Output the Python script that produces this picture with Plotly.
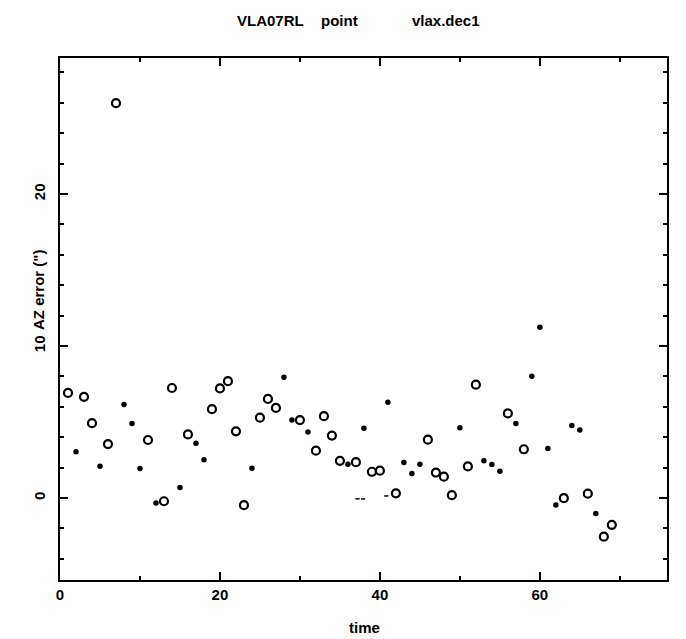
import plotly.graph_objects as go

# time index and AZ error values (arcsec)
t_open = [1, 3, 4, 6, 7, 11, 13, 14, 16, 19, 20, 21, 22, 23, 25, 26, 27, 30, 32, 33, 34, 35, 37, 39, 40, 42, 46, 47, 48, 49, 51, 52, 56, 58, 63, 66, 68, 69]
y_open = [6.92, 6.66, 4.93, 3.55, 25.98, 3.82, -0.21, 7.24, 4.19, 5.85, 7.21, 7.69, 4.39, -0.47, 5.29, 6.52, 5.93, 5.13, 3.12, 5.39, 4.11, 2.45, 2.36, 1.73, 1.80, 0.31, 3.84, 1.68, 1.41, 0.19, 2.08, 7.46, 5.57, 3.21, -0.01, 0.29, -2.54, -1.76]

t_fill = [2, 5, 8, 9, 10, 12, 15, 17, 18, 24, 28, 29, 31, 36, 38, 41, 43, 44, 45, 50, 53, 54, 55, 57, 59, 60, 61, 62, 64, 65, 67]
y_fill = [3.05, 2.10, 6.16, 4.90, 1.95, -0.33, 0.69, 3.61, 2.52, 1.96, 7.94, 5.14, 4.34, 2.22, 4.59, 6.31, 2.34, 1.62, 2.23, 4.63, 2.45, 2.20, 1.77, 4.91, 8.02, 11.23, 3.26, -0.45, 4.78, 4.47, -1.01]

t_tiny = [37.2, 37.9, 40.8]
y_tiny = [-0.05, -0.06, 0.14]

x_ticks = [0, 20, 40, 60]
y_ticks = [0, 10, 20]

FONT = "Liberation Sans"

fig = go.Figure()
fig.add_trace(go.Scatter(x=t_open, y=y_open, mode="markers",
                         marker=dict(symbol="circle-open", size=8, color="black",
                                     line=dict(width=2.2, color="black")),
                         showlegend=False))
fig.add_trace(go.Scatter(x=t_fill, y=y_fill, mode="markers",
                         marker=dict(symbol="circle", size=5.5, color="black"),
                         showlegend=False))
fig.add_trace(go.Scatter(x=t_tiny, y=y_tiny, mode="markers",
                         marker=dict(symbol="line-ew", size=3, color="black",
                                     line=dict(width=1.5, color="black")),
                         showlegend=False))

axis_common = dict(showline=True, linecolor="black", linewidth=2, mirror="ticks",
                   ticks="inside", tickcolor="black", tickwidth=1.5, ticklen=8,
                   showgrid=False, zeroline=False,
                   tickfont=dict(family=FONT, size=15, color="black", weight="bold"))

fig.update_xaxes(range=[0, 75.9], tickvals=x_ticks,
                 minor=dict(dtick=10, tick0=0, ticks="inside", ticklen=4, tickwidth=1.5, tickcolor="black"),
                 **axis_common)
fig.update_yaxes(range=[-5.39, 28.95], tickvals=y_ticks, tickangle=-90, ticklabelstandoff=7,
                 minor=dict(dtick=2, tick0=0, ticks="inside", ticklen=4, tickwidth=1.5, tickcolor="black"),
                 **axis_common)

tf = dict(family=FONT, size=15, color="black", weight="bold")
ann = [
    dict(text="VLA07RL", x=270, y=20),
    dict(text="point", x=339, y=20),
    dict(text="vlax.dec1", x=446, y=20),
]
L, T, W, H = 60, 58, 607, 522
annotations = []
for a in ann:
    annotations.append(dict(text=a["text"], xref="paper", yref="paper",
                            x=(a["x"] - L) / W, y=(T + H - a["y"]) / H,
                            xanchor="center", yanchor="middle", showarrow=False, font=tf))
annotations.append(dict(text="time", xref="paper", yref="paper",
                        x=(364 - L) / W, y=(T + H - 628) / H,
                        xanchor="center", yanchor="middle", showarrow=False, font=tf))
annotations.append(dict(text="AZ error (\")", xref="paper", yref="paper",
                        x=(38 - L) / W, y=(T + H - 290) / H, textangle=-90,
                        xanchor="center", yanchor="middle", showarrow=False, font=tf))

fig.update_layout(width=686, height=639,
                  margin=dict(l=L, r=686 - L - W, t=T, b=639 - T - H),
                  paper_bgcolor="white", plot_bgcolor="white",
                  annotations=annotations)

fig.write_html("out.html", config={"displayModeBar": False},
               post_script="document.body.style.margin='0px';document.body.style.overflow='hidden';")
